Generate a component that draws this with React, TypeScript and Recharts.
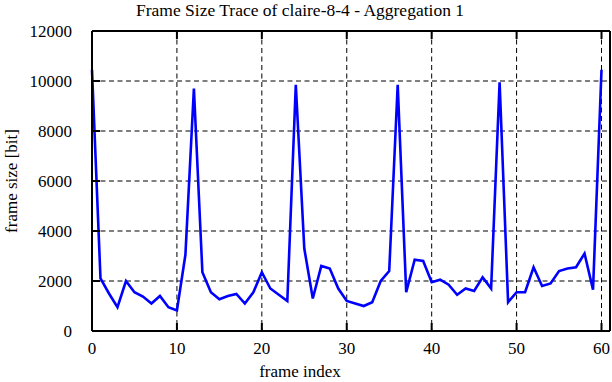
import React from "react";
import { LineChart, Line, XAxis, YAxis, CartesianGrid } from "recharts";

// frame index 0..60
const frames: number[] = Array.from({ length: 61 }, (_, i) => i);

// frame size in bits
const frameSizes: number[] = [
  10450, 2100, 1500, 950, 2000, 1550, 1380, 1100, 1400, 950,
  820, 3050, 9700, 2350, 1550, 1270, 1400, 1480, 1100, 1550,
  2350, 1700, 1450, 1200, 9850, 3300, 1300, 2600, 2500, 1700,
  1200, 1100, 1000, 1150, 2000, 2400, 9850, 1550, 2850, 2800,
  1950, 2050, 1850, 1450, 1700, 1600, 2150, 1700, 9950, 1150,
  1550, 1550, 2550, 1800, 1900, 2400, 2500, 2550, 3100, 1650,
  10450,
];

const xTicks = [0, 10, 20, 30, 40, 50, 60];
const yTicks = [0, 2000, 4000, 6000, 8000, 10000, 12000];

const data = frames.map((f, i) => ({ frame: f, size: frameSizes[i] }));

const FONT = "Liberation Serif, DejaVu Serif, serif";

const XTick = (props: any) => (
  <text x={props.x} y={props.y} dy="0.71em" textAnchor="middle" fill="#000" fontFamily={FONT} fontSize={17}>
    {props.payload.value}
  </text>
);

const YTick = (props: any) => (
  <text x={props.x} y={props.y} dy="0.355em" textAnchor="end" fill="#000" fontFamily={FONT} fontSize={17}>
    {props.payload.value}
  </text>
);

const noTick = () => <g />;

export default function App() {
  return (
    <div style={{ position: "relative", width: 612, height: 382, background: "#fff", fontFamily: FONT }}>
      <style>{"body{margin:0}"}</style>
      <LineChart width={612} height={382} data={data} margin={{ top: 30, right: 1, bottom: 0, left: 0 }}>
        <CartesianGrid
          xAxisId="b"
          yAxisId="l"
          stroke="#000"
          strokeDasharray="5 3.5"
          horizontalValues={[2000, 4000, 6000, 8000, 10000]}
          verticalValues={[10, 20, 30, 40, 50, 60]}
        />
        <XAxis
          xAxisId="b"
          dataKey="frame"
          type="number"
          domain={[0, 61]}
          ticks={xTicks}
          height={51}
          stroke="#000"
          strokeWidth={2}
          tickSize={-8}
          tickMargin={19}
          tick={XTick}
        />
        <XAxis
          xAxisId="t"
          orientation="top"
          dataKey="frame"
          type="number"
          domain={[0, 61]}
          ticks={xTicks}
          height={1}
          stroke="#000"
          strokeWidth={2}
          tickSize={-8}
          tick={noTick}
        />
        <YAxis
          yAxisId="l"
          type="number"
          domain={[0, 12000]}
          ticks={yTicks}
          width={92}
          stroke="#000"
          strokeWidth={2}
          tickSize={-8}
          tickMargin={28}
          tick={YTick}
        />
        <YAxis
          yAxisId="r"
          orientation="right"
          type="number"
          domain={[0, 12000]}
          ticks={yTicks}
          width={1}
          stroke="#000"
          strokeWidth={2}
          tickSize={-8}
          tick={noTick}
        />
        <Line
          xAxisId="b"
          yAxisId="l"
          type="linear"
          dataKey="size"
          stroke="#0000ff"
          strokeWidth={2.6}
          dot={false}
          isAnimationActive={false}
        />
      </LineChart>
      <div
        style={{
          position: "absolute",
          left: 0,
          width: 600,
          top: 0,
          textAlign: "center",
          fontSize: 17.5,
          color: "#000",
          whiteSpace: "nowrap",
        }}
      >
        Frame Size Trace of claire-8-4 - Aggregation 1
      </div>
      <div
        style={{
          position: "absolute",
          left: 0,
          width: 600,
          top: 362,
          textAlign: "center",
          fontSize: 17,
          color: "#000",
        }}
      >
        frame index
      </div>
      <div
        style={{
          position: "absolute",
          left: 12,
          top: 181,
          transform: "translate(-50%, -50%) rotate(-90deg)",
          fontSize: 17,
          color: "#000",
          whiteSpace: "nowrap",
        }}
      >
        frame size [bit]
      </div>
    </div>
  );
}
